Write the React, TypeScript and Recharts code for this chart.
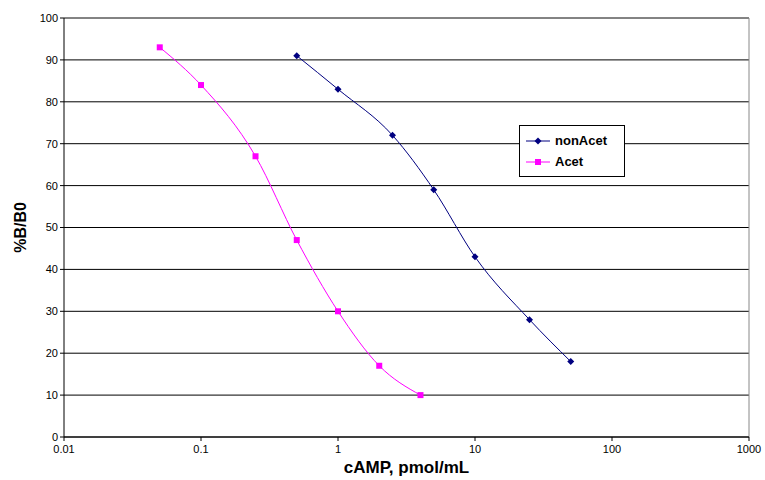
import React from 'react';
import { LineChart, Line, XAxis, YAxis, CartesianGrid, Legend, ReferenceLine } from 'recharts';

const nonAcetDose = [0.5, 1, 2.5, 5, 10, 25, 50];
const nonAcetPct = [91, 83, 72, 59, 43, 28, 18];
const acetDose = [0.05, 0.1, 0.25, 0.5, 1, 2, 4];
const acetPct = [93, 84, 67, 47, 30, 17, 10];
const xTicks = [0.01, 0.1, 1, 10, 100, 1000];
const yTicks = [0, 10, 20, 30, 40, 50, 60, 70, 80, 90, 100];

const nonAcetData = nonAcetDose.map((x, i) => ({ x, y: nonAcetPct[i] }));
const acetData = acetDose.map((x, i) => ({ x, y: acetPct[i] }));

const NAVY = '#000080';
const MAGENTA = '#FF00FF';
const FONT = '"Liberation Sans", Arial, sans-serif';

const Diamond = (props: any) => {
  const { cx, cy } = props;
  if (cx == null || cy == null) return null;
  return <polygon points={`${cx},${cy - 3.5} ${cx + 3.5},${cy} ${cx},${cy + 3.5} ${cx - 3.5},${cy}`} fill={NAVY} />;
};

const Square = (props: any) => {
  const { cx, cy } = props;
  if (cx == null || cy == null) return null;
  return <rect x={cx - 3} y={cy - 3} width={6} height={6} fill={MAGENTA} />;
};

const LegendBox = () => (
  <div style={{ border: '1px solid #000', background: '#fff', padding: '4px 6px', width: 92, fontFamily: FONT, fontWeight: 'bold', fontSize: 13 }}>
    {[
      { name: 'nonAcet', color: NAVY, shape: 'diamond' },
      { name: 'Acet', color: MAGENTA, shape: 'square' },
    ].map((it) => (
      <div key={it.name} style={{ display: 'flex', alignItems: 'center', height: 21 }}>
        <svg width={24} height={10} style={{ marginRight: 5 }}>
          <line x1={0} y1={5} x2={24} y2={5} stroke={it.color} strokeWidth={1} />
          {it.shape === 'diamond' ? (
            <polygon points="12,1.5 15.5,5 12,8.5 8.5,5" fill={it.color} />
          ) : (
            <rect x={9} y={2} width={6} height={6} fill={it.color} />
          )}
        </svg>
        <span>{it.name}</span>
      </div>
    ))}
  </div>
);

export default function App() {
  return (
    <div style={{ position: 'absolute', left: 0, top: 0, width: 765, height: 480, background: '#fff' }}>
      <LineChart width={765} height={480} margin={{ top: 18, right: 16, bottom: 23, left: 24 }}>
        <CartesianGrid vertical={false} stroke="#000" />
        <XAxis
          type="number"
          dataKey="x"
          scale="log"
          domain={[0.01, 1000]}
          ticks={xTicks}
          allowDataOverflow
          height={20}
          stroke="#000"
          tickSize={4}
          tickMargin={4}
          tick={{ fill: '#000', fontSize: 11, fontFamily: FONT }}
          tickFormatter={(v: number) => String(v)}
          label={{
            content: (p: any) => {
              const vb = p.viewBox;
              return (
                <text x={vb.x + vb.width / 2} y={473} textAnchor="middle" fontFamily={FONT} fontWeight="bold" fontSize={17} fill="#000">
                  cAMP, pmol/mL
                </text>
              );
            },
          }}
        />
        <YAxis
          type="number"
          dataKey="y"
          domain={[0, 100]}
          ticks={yTicks}
          width={40}
          stroke="#000"
          tickSize={4}
          tick={{ fill: '#000', fontSize: 11, fontFamily: FONT }}
          label={{
            content: (p: any) => {
              const vb = p.viewBox;
              const cy = vb.y + vb.height / 2;
              return (
                <text x={26} y={cy} transform={`rotate(-90 26 ${cy})`} textAnchor="middle" fontFamily={FONT} fontWeight="bold" fontSize={16} fill="#000">
                  %B/B0
                </text>
              );
            },
          }}
        />
        <ReferenceLine y={100} stroke="#888" />
        <ReferenceLine x={1000} stroke="#888" />
        <Legend
          layout="horizontal"
          verticalAlign="middle"
          content={() => <LegendBox />}
          wrapperStyle={{ position: 'absolute', left: 519, top: 125, width: 'auto' }}
        />
        <Line
          data={nonAcetData}
          dataKey="y"
          name="nonAcet"
          type="monotone"
          stroke={NAVY}
          strokeWidth={1}
          dot={<Diamond />}
          activeDot={false}
          isAnimationActive={false}
        />
        <Line
          data={acetData}
          dataKey="y"
          name="Acet"
          type="monotone"
          stroke={MAGENTA}
          strokeWidth={1}
          dot={<Square />}
          activeDot={false}
          isAnimationActive={false}
        />
      </LineChart>
    </div>
  );
}
